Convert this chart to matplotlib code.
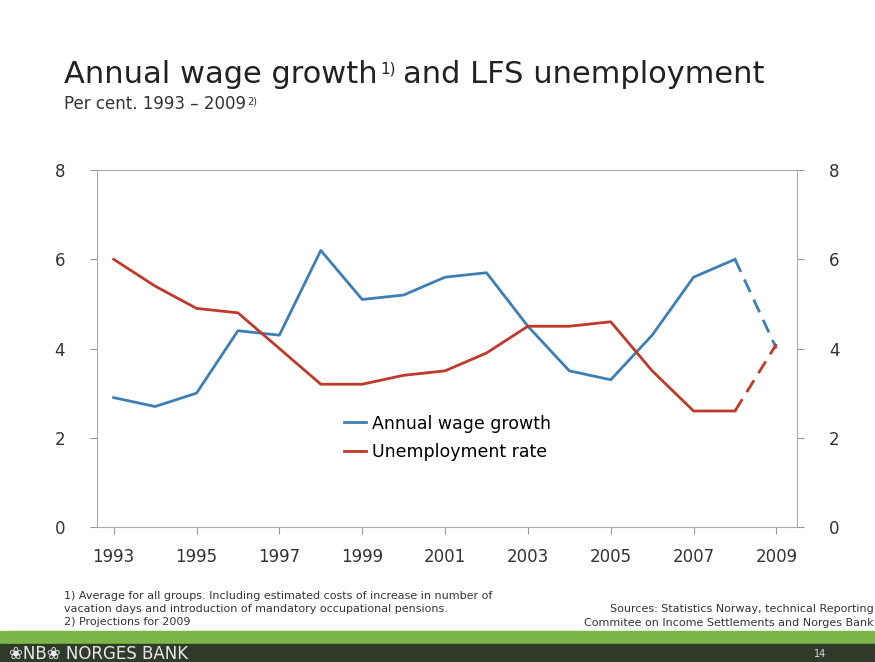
import matplotlib.pyplot as plt
from matplotlib.patches import Rectangle

years = list(range(1993, 2010))
wage = [2.9, 2.7, 3.0, 4.4, 4.3, 6.2, 5.1, 5.2, 5.6, 5.7, 4.5, 3.5, 3.3, 4.3, 5.6, 6.0, 4.0]
unemp = [6.0, 5.4, 4.9, 4.8, 4.0, 3.2, 3.2, 3.4, 3.5, 3.9, 4.5, 4.5, 4.6, 3.5, 2.6, 2.6, 4.1]
xticks = list(range(1993, 2010, 2))

blue = '#3d7fb5'
red = '#c0392b'

fig = plt.figure(figsize=(8.75, 6.62), dpi=100)
ax = fig.add_axes([0.111, 0.204, 0.800, 0.539])

ax.plot(years[:-1], wage[:-1], color=blue, lw=2, label='Annual wage growth')
ax.plot(years[-2:], wage[-2:], color=blue, lw=2, ls=(0, (5, 3)))
ax.plot(years[:-1], unemp[:-1], color=red, lw=2, label='Unemployment rate')
ax.plot(years[-2:], unemp[-2:], color=red, lw=2, ls=(0, (5, 3)))

ax.set_xlim(1992.6, 2009.5)
ax.set_ylim(0, 8)
ax.set_yticks([0, 2, 4, 6, 8])
ax.set_xticks(xticks)
ax.tick_params(colors='#333333', labelsize=12, length=5, direction='out', color='#999999')
ax.tick_params(axis='y', labelright=True, right=True, pad=18)
ax.tick_params(axis='x', pad=10)
for s in ax.spines.values():
    s.set_color('#aaaaaa')
ax.legend(loc='center', bbox_to_anchor=(0.5, 0.25), frameon=False, fontsize=12.5,
          handlelength=1.3, handletextpad=0.3, labelspacing=0.6)

# title with superscripts chained after each text piece
t1 = fig.text(0.073, 0.875, 'Annual wage growth', fontsize=22, color='#222222')
sup1 = plt.annotate('1)', xy=(1, 0.95), xycoords=t1, xytext=(2, 0), textcoords='offset points',
                    fontsize=11, color='#222222', va='top', annotation_clip=False)
plt.annotate('and LFS unemployment', xy=(1, 0), xycoords=(sup1, t1), xytext=(5, 0),
             textcoords='offset points', fontsize=22, color='#222222', va='bottom',
             annotation_clip=False)
t2 = fig.text(0.073, 0.835, 'Per cent. 1993 – 2009', fontsize=12, color='#333333')
plt.annotate('2)', xy=(1, 0.95), xycoords=t2, xytext=(1, 0), textcoords='offset points',
             fontsize=7, color='#333333', va='top', annotation_clip=False)

fig.text(0.073, 0.108, '1) Average for all groups. Including estimated costs of increase in number of\n'
         'vacation days and introduction of mandatory occupational pensions.\n2) Projections for 2009',
         fontsize=8, color='#333333', va='top', linespacing=1.4)
fig.text(0.998, 0.087, 'Sources: Statistics Norway, technical Reporting\nCommitee on Income Settlements and Norges Bank',
         fontsize=8, color='#333333', va='top', ha='right', linespacing=1.5)

fig.patches.append(Rectangle((0, 0.025), 1, 0.022, transform=fig.transFigure, color='#7ab648'))
fig.patches.append(Rectangle((0, 0), 1, 0.027, transform=fig.transFigure, color='#2f3b2a'))
fig.text(0.01, 0.012, '❀NB❀ NORGES BANK', fontsize=12, color='#e8e8e8', va='center')
fig.text(0.93, 0.012, '14', fontsize=7, color='#dddddd', va='center')

plt.savefig('out.png', dpi=100)
